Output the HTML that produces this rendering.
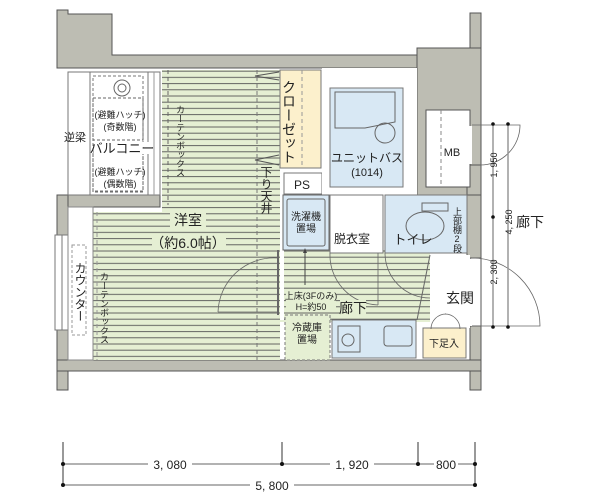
<!DOCTYPE html>
<html><head><meta charset="utf-8"><style>
html,body{margin:0;padding:0;background:#fff;}
svg{display:block;font-family:"Liberation Sans","Noto Sans CJK JP",sans-serif;}
.v{writing-mode:vertical-rl;text-orientation:upright;}
</style></head><body>
<svg width="600" height="500" viewBox="0 0 600 500" xmlns="http://www.w3.org/2000/svg">
<defs>
<pattern id="st" width="10" height="6.2" patternUnits="userSpaceOnUse">
<rect width="10" height="6.2" fill="#e5efd3"/><line x1="0" y1="3" x2="10" y2="3" stroke="#555" stroke-width="0.9"/>
</pattern>
</defs>
<!-- walls -->
<g fill="#bdbdb3" stroke="#555" stroke-width="1">
<path d="M57,10 H68 V14 H112 V55 H427 V48 H470 V13 H481 V390 H470 V360 H68 V390 H57 V195 H160 V207 H68 V360 H470 V68 H57 Z" fill="none"/>
<path d="M57,10 H68 V14 H112 V55 H427 V48 H470 V13 H481 V125 H470 V68 H57 Z"/>
<rect x="417" y="48" width="64" height="147"/>
<rect x="467" y="190" width="14" height="68"/>
<rect x="470" y="326" width="11" height="64"/>
<rect x="57" y="195" width="103" height="12"/>
<rect x="57" y="195" width="11" height="195"/>
<rect x="57" y="360" width="424" height="11"/>
<rect x="467" y="165" width="14" height="30"/>
</g>
<rect x="426" y="110" width="44" height="77" fill="#fff" stroke="#555"/>
<line x1="441" y1="110" x2="441" y2="187" stroke="#888" stroke-dasharray="4,3"/>
<rect x="469" y="126" width="3" height="38" fill="#fff"/>
<rect x="469" y="259" width="3" height="67" fill="#fff"/>
<!-- left window -->
<rect x="55" y="235" width="15" height="95" fill="#fff" stroke="#777"/>
<line x1="62" y1="235" x2="62" y2="330" stroke="#777"/>
<!-- balcony -->
<rect x="68" y="72" width="85" height="123" fill="#fff" stroke="#777"/>
<line x1="90" y1="72" x2="90" y2="195" stroke="#777"/>
<rect x="93" y="76" width="50" height="115" fill="none" stroke="#777" stroke-dasharray="3,2"/>
<rect x="93" y="98" width="50" height="42" fill="none" stroke="#666" stroke-dasharray="3,2"/>
<rect x="93" y="152" width="50" height="40" fill="none" stroke="#666" stroke-dasharray="3,2"/>
<circle cx="122" cy="88" r="8" fill="#fff" stroke="#666"/><circle cx="122" cy="88" r="4" fill="none" stroke="#666"/>
<rect x="148" y="72" width="12" height="123" fill="#fff" stroke="#777"/>
<line x1="154" y1="72" x2="154" y2="195" stroke="#999"/>
<!-- room stripes -->
<rect x="162" y="70" width="118" height="145" fill="url(#st)"/>
<rect x="93" y="212" width="187" height="148" fill="url(#st)"/>
<rect x="68" y="207" width="25" height="153" fill="#fff" stroke="#888"/>
<rect x="72" y="245" width="14" height="90" fill="none" stroke="#999" stroke-dasharray="3,2"/>
<line x1="93" y1="207" x2="93" y2="360" stroke="#888"/>
<line x1="97" y1="212" x2="97" y2="360" stroke="#999" stroke-dasharray="4,3"/>
<line x1="168" y1="70" x2="168" y2="205" stroke="#666" stroke-dasharray="4,3"/>
<line x1="257" y1="70" x2="257" y2="360" stroke="#777" stroke-dasharray="4,3"/>
<path d="M279,80 L255,76 L279,72 M279,165 L255,160 L279,155" fill="none" stroke="#555"/>
<!-- closet, PS -->
<rect x="280" y="70" width="41" height="98" fill="#fcf0cc" stroke="#777"/>
<line x1="302" y1="70" x2="302" y2="168" stroke="#999" stroke-dasharray="4,3"/>
<rect x="284" y="173" width="38" height="21" fill="#fff" stroke="#777"/>
<!-- white core -->
<rect x="322" y="68" width="95" height="127" fill="#fff"/>
<rect x="330" y="88" width="73" height="99" fill="#d8e8f4" stroke="#777"/>
<path d="M335,92 h60 v30 l-30,6 h-30 z" fill="none" stroke="#666"/>
<circle cx="385" cy="133" r="10" fill="none" stroke="#666"/>
<!-- hallway stripes -->
<rect x="280" y="250" width="150" height="72" fill="url(#st)"/>
<rect x="280" y="212" width="4" height="108" fill="#fff"/>
<rect x="283" y="195" width="46" height="55" fill="#d8e8f4" stroke="#666"/>
<rect x="287" y="199" width="38" height="47" fill="none" stroke="#666" rx="2"/>
<rect x="330" y="195" width="53" height="58" fill="#fff" stroke="#777"/>
<rect x="385" y="195" width="82" height="58" fill="#d8e8f4" stroke="#777"/>
<ellipse cx="425" cy="226" rx="19" ry="14" fill="none" stroke="#666"/>
<rect x="422" y="203" width="26" height="8" fill="none" stroke="#666"/>
<rect x="430" y="255" width="40" height="73" fill="#fff"/>
<path d="M430,255 L417,320" stroke="#666"/>
<rect x="332" y="320" width="84" height="38" fill="#d8e8f4" stroke="#777"/>
<rect x="338" y="326" width="22" height="26" fill="none" stroke="#666"/><circle cx="348" cy="340" r="6" fill="none" stroke="#666"/>
<rect x="384" y="326" width="28" height="20" rx="3" fill="none" stroke="#666"/>
<rect x="285" y="315" width="45" height="45" fill="#e5efd3" stroke="#777" stroke-dasharray="3,2"/>
<rect x="423" y="328" width="43" height="30" fill="#fcf0cc" stroke="#777"/>
<!-- door arcs -->
<g fill="none" stroke="#666" stroke-width="0.8">
<path d="M218,312 A56,56 0 0 1 278,258"/><line x1="218" y1="312" x2="278" y2="312"/>
<line x1="278" y1="250" x2="278" y2="315" stroke-width="2"/>
<path d="M330,253 A50,50 0 0 0 378,305"/><line x1="378" y1="253" x2="378" y2="305"/>
<path d="M385,253 A45,45 0 0 0 430,298"/>
<path d="M472,258 A68,68 0 0 1 540,326 H472"/>
<path d="M472,125 H520 A40,40 0 0 1 480,165"/>
<path d="M431,329 a15,15 0 0 1 15,-15 M460,329 a15,15 0 0 0 -15,-15"/>
</g>
<line x1="305" y1="285" x2="305" y2="250" stroke="#444"/><path d="M305,248 l-2,5 h4z" fill="#444"/>
<!-- right dims -->
<g stroke="#999" stroke-width="1.5"><line x1="493" y1="124" x2="493" y2="327"/><line x1="508" y1="124" x2="508" y2="327"/></g>
<g fill="#111"><circle cx="493" cy="124" r="1.8"/><circle cx="508" cy="124" r="1.8"/><circle cx="493" cy="217" r="1.8"/><circle cx="493" cy="327" r="1.8"/><circle cx="508" cy="327" r="1.8"/></g>
<!-- bottom dims -->
<g stroke="#999" stroke-width="1.5"><line x1="63" y1="464" x2="475" y2="464"/><line x1="63" y1="485" x2="475" y2="485"/></g>
<g stroke="#333"><line x1="63" y1="442" x2="63" y2="485"/><line x1="282" y1="442" x2="282" y2="464"/><line x1="418" y1="442" x2="418" y2="464"/><line x1="475" y1="442" x2="475" y2="485"/></g>
<g fill="#111"><circle cx="63" cy="464" r="2"/><circle cx="282" cy="464" r="2"/><circle cx="418" cy="464" r="2"/><circle cx="475" cy="464" r="2"/><circle cx="63" cy="485" r="2"/><circle cx="475" cy="485" r="2"/></g>
<g font-size="12" fill="#222" text-anchor="middle">
<rect x="148" y="456" width="44" height="14" fill="#fff"/><text x="170" y="469">3, 080</text>
<rect x="330" y="456" width="44" height="14" fill="#fff"/><text x="352" y="469">1, 920</text>
<rect x="434" y="456" width="24" height="14" fill="#fff"/><text x="446" y="469">800</text>
<rect x="250" y="477" width="44" height="14" fill="#fff"/><text x="272" y="490">5, 800</text>
</g>
<!-- labels -->
<g fill="#222" text-anchor="middle">
<text x="75" y="141" font-size="11">逆梁</text>
<rect x="94" y="142" width="56" height="12" fill="#fff"/>
<text x="122" y="153" font-size="13">バルコニー</text>
<text x="120" y="118" font-size="9">(避難ハッチ)</text><text x="120" y="130" font-size="9">(奇数階)</text>
<text x="120" y="175" font-size="9">(避難ハッチ)</text><text x="120" y="187" font-size="9">(偶数階)</text>
<text x="302" y="189" font-size="12">PS</text>
<text x="367" y="162" font-size="12">ユニットバス</text>
<text x="367" y="176" font-size="11">(1014)</text>
<text x="306" y="220" font-size="10">洗濯機</text><text x="306" y="232" font-size="10">置場</text>
<text x="352" y="243" font-size="12">脱衣室</text>
<text x="413" y="244" font-size="13">トイレ</text>
<text x="452" y="156" font-size="11">MB</text>
<rect x="170" y="212" width="36" height="15" fill="#e5efd3"/>
<text x="188" y="225" font-size="14">洋室</text>
<rect x="152" y="234" width="74" height="16" fill="#e5efd3"/>
<text x="188" y="248" font-size="14">（約6.0帖）</text>
<rect x="286" y="290" width="50" height="22" fill="#e5efd3"/>
<text x="311" y="299" font-size="9">上床(3Fのみ)</text>
<text x="311" y="310" font-size="9">H=約50</text>
<rect x="340" y="300" width="26" height="15" fill="#e5efd3"/>
<text x="353" y="313" font-size="14">廊下</text>
<text x="307" y="331" font-size="10">冷蔵庫</text><text x="307" y="343" font-size="10">置場</text>
<text x="460" y="303" font-size="14">玄関</text>
<text x="444" y="347" font-size="10">下足入</text>
<text x="530" y="227" font-size="14">廊下</text>
<text font-size="9" transform="translate(497,165) rotate(-90)">1, 950</text>
<text font-size="9" transform="translate(497,272) rotate(-90)">2, 300</text>
<text font-size="9" transform="translate(512,222) rotate(-90)">4, 250</text>
</g>
<g fill="#222">
<text class="v" x="180" y="105" font-size="9">カーテンボックス</text>
<text class="v" x="104" y="272" font-size="9">カーテンボックス</text>
<text class="v" x="289" y="80" font-size="14">クローゼット</text>
<text class="v" x="266" y="166" font-size="12">下り天井</text>
<text class="v" x="80" y="262" font-size="12">カウンター</text>
<text class="v" x="457" y="207" font-size="9">上部棚2段</text>
</g>
</svg>
</body></html>
